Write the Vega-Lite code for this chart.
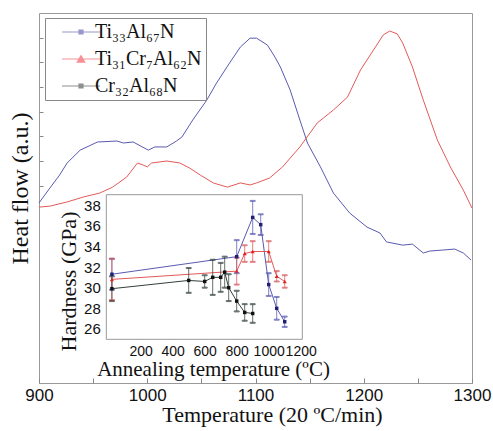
{
  "$schema": "https://vega.github.io/schema/vega-lite/v6.json",
  "width": 433,
  "height": 370,
  "autosize": "none",
  "padding": {"left": 39, "top": 13, "right": 21, "bottom": 48},
  "background": "white",
  "datasets": {
    "dsc": [
      {"T": 900, "hf": 7.30, "s": "Ti₃₃Al₆₇N"},
      {"T": 910, "hf": 7.90, "s": "Ti₃₃Al₆₇N"},
      {"T": 919, "hf": 8.43, "s": "Ti₃₃Al₆₇N"},
      {"T": 926, "hf": 8.92, "s": "Ti₃₃Al₆₇N"},
      {"T": 938, "hf": 9.44, "s": "Ti₃₃Al₆₇N"},
      {"T": 954, "hf": 9.77, "s": "Ti₃₃Al₆₇N"},
      {"T": 972, "hf": 9.81, "s": "Ti₃₃Al₆₇N"},
      {"T": 978, "hf": 9.73, "s": "Ti₃₃Al₆₇N"},
      {"T": 987, "hf": 9.77, "s": "Ti₃₃Al₆₇N"},
      {"T": 1001, "hf": 9.44, "s": "Ti₃₃Al₆₇N"},
      {"T": 1007, "hf": 9.57, "s": "Ti₃₃Al₆₇N"},
      {"T": 1018, "hf": 9.57, "s": "Ti₃₃Al₆₇N"},
      {"T": 1027, "hf": 9.81, "s": "Ti₃₃Al₆₇N"},
      {"T": 1032, "hf": 9.97, "s": "Ti₃₃Al₆₇N"},
      {"T": 1042, "hf": 10.66, "s": "Ti₃₃Al₆₇N"},
      {"T": 1055, "hf": 11.47, "s": "Ti₃₃Al₆₇N"},
      {"T": 1064, "hf": 12.16, "s": "Ti₃₃Al₆₇N"},
      {"T": 1076, "hf": 12.97, "s": "Ti₃₃Al₆₇N"},
      {"T": 1086, "hf": 13.62, "s": "Ti₃₃Al₆₇N"},
      {"T": 1095, "hf": 13.98, "s": "Ti₃₃Al₆₇N"},
      {"T": 1101, "hf": 13.98, "s": "Ti₃₃Al₆₇N"},
      {"T": 1111, "hf": 13.70, "s": "Ti₃₃Al₆₇N"},
      {"T": 1118, "hf": 13.21, "s": "Ti₃₃Al₆₇N"},
      {"T": 1123, "hf": 12.81, "s": "Ti₃₃Al₆₇N"},
      {"T": 1132, "hf": 11.88, "s": "Ti₃₃Al₆₇N"},
      {"T": 1141, "hf": 10.66, "s": "Ti₃₃Al₆₇N"},
      {"T": 1148, "hf": 9.73, "s": "Ti₃₃Al₆₇N"},
      {"T": 1160, "hf": 8.76, "s": "Ti₃₃Al₆₇N"},
      {"T": 1172, "hf": 7.70, "s": "Ti₃₃Al₆₇N"},
      {"T": 1187, "hf": 6.89, "s": "Ti₃₃Al₆₇N"},
      {"T": 1203, "hf": 6.32, "s": "Ti₃₃Al₆₇N"},
      {"T": 1215, "hf": 6.08, "s": "Ti₃₃Al₆₇N"},
      {"T": 1221, "hf": 5.72, "s": "Ti₃₃Al₆₇N"},
      {"T": 1236, "hf": 5.59, "s": "Ti₃₃Al₆₇N"},
      {"T": 1245, "hf": 5.63, "s": "Ti₃₃Al₆₇N"},
      {"T": 1255, "hf": 5.27, "s": "Ti₃₃Al₆₇N"},
      {"T": 1261, "hf": 5.35, "s": "Ti₃₃Al₆₇N"},
      {"T": 1273, "hf": 5.39, "s": "Ti₃₃Al₆₇N"},
      {"T": 1284, "hf": 5.43, "s": "Ti₃₃Al₆₇N"},
      {"T": 1292, "hf": 5.27, "s": "Ti₃₃Al₆₇N"},
      {"T": 1299, "hf": 4.99, "s": "Ti₃₃Al₆₇N"},
      {"T": 900, "hf": 7.13, "s": "Ti₃₁Cr₇Al₆₂N"},
      {"T": 910, "hf": 7.17, "s": "Ti₃₁Cr₇Al₆₂N"},
      {"T": 926, "hf": 7.34, "s": "Ti₃₁Cr₇Al₆₂N"},
      {"T": 941, "hf": 7.54, "s": "Ti₃₁Cr₇Al₆₂N"},
      {"T": 956, "hf": 7.70, "s": "Ti₃₁Cr₇Al₆₂N"},
      {"T": 968, "hf": 7.94, "s": "Ti₃₁Cr₇Al₆₂N"},
      {"T": 981, "hf": 8.35, "s": "Ti₃₁Cr₇Al₆₂N"},
      {"T": 991, "hf": 8.92, "s": "Ti₃₁Cr₇Al₆₂N"},
      {"T": 996, "hf": 8.84, "s": "Ti₃₁Cr₇Al₆₂N"},
      {"T": 1000, "hf": 8.76, "s": "Ti₃₁Cr₇Al₆₂N"},
      {"T": 1004, "hf": 8.92, "s": "Ti₃₁Cr₇Al₆₂N"},
      {"T": 1018, "hf": 9.00, "s": "Ti₃₁Cr₇Al₆₂N"},
      {"T": 1030, "hf": 8.92, "s": "Ti₃₁Cr₇Al₆₂N"},
      {"T": 1039, "hf": 8.72, "s": "Ti₃₁Cr₇Al₆₂N"},
      {"T": 1049, "hf": 8.43, "s": "Ti₃₁Cr₇Al₆₂N"},
      {"T": 1061, "hf": 8.11, "s": "Ti₃₁Cr₇Al₆₂N"},
      {"T": 1074, "hf": 7.94, "s": "Ti₃₁Cr₇Al₆₂N"},
      {"T": 1086, "hf": 8.11, "s": "Ti₃₁Cr₇Al₆₂N"},
      {"T": 1095, "hf": 8.03, "s": "Ti₃₁Cr₇Al₆₂N"},
      {"T": 1101, "hf": 8.11, "s": "Ti₃₁Cr₇Al₆₂N"},
      {"T": 1113, "hf": 8.31, "s": "Ti₃₁Cr₇Al₆₂N"},
      {"T": 1125, "hf": 8.76, "s": "Ti₃₁Cr₇Al₆₂N"},
      {"T": 1141, "hf": 9.57, "s": "Ti₃₁Cr₇Al₆₂N"},
      {"T": 1157, "hf": 10.54, "s": "Ti₃₁Cr₇Al₆₂N"},
      {"T": 1172, "hf": 11.07, "s": "Ti₃₁Cr₇Al₆₂N"},
      {"T": 1185, "hf": 11.59, "s": "Ti₃₁Cr₇Al₆₂N"},
      {"T": 1197, "hf": 12.69, "s": "Ti₃₁Cr₇Al₆₂N"},
      {"T": 1209, "hf": 13.50, "s": "Ti₃₁Cr₇Al₆₂N"},
      {"T": 1218, "hf": 14.11, "s": "Ti₃₁Cr₇Al₆₂N"},
      {"T": 1224, "hf": 14.27, "s": "Ti₃₁Cr₇Al₆₂N"},
      {"T": 1231, "hf": 14.15, "s": "Ti₃₁Cr₇Al₆₂N"},
      {"T": 1236, "hf": 13.78, "s": "Ti₃₁Cr₇Al₆₂N"},
      {"T": 1245, "hf": 12.81, "s": "Ti₃₁Cr₇Al₆₂N"},
      {"T": 1255, "hf": 11.47, "s": "Ti₃₁Cr₇Al₆₂N"},
      {"T": 1268, "hf": 9.85, "s": "Ti₃₁Cr₇Al₆₂N"},
      {"T": 1280, "hf": 8.76, "s": "Ti₃₁Cr₇Al₆₂N"},
      {"T": 1292, "hf": 7.82, "s": "Ti₃₁Cr₇Al₆₂N"},
      {"T": 1300, "hf": 7.09, "s": "Ti₃₁Cr₇Al₆₂N"}
    ],
    "hard": [
      {"A": 20, "H": 31.3, "lo": 29.8, "hi": 32.8, "s": "Ti₃₃Al₆₇N"},
      {"A": 800, "H": 33.0, "lo": 31.4, "hi": 34.6, "s": "Ti₃₃Al₆₇N"},
      {"A": 900, "H": 36.8, "lo": 35.2, "hi": 38.4, "s": "Ti₃₃Al₆₇N"},
      {"A": 950, "H": 36.1, "lo": 35.1, "hi": 37.1, "s": "Ti₃₃Al₆₇N"},
      {"A": 1000, "H": 30.3, "lo": 29.2, "hi": 31.4, "s": "Ti₃₃Al₆₇N"},
      {"A": 1050, "H": 28.0, "lo": 26.9, "hi": 29.1, "s": "Ti₃₃Al₆₇N"},
      {"A": 1100, "H": 26.7, "lo": 26.2, "hi": 27.2, "s": "Ti₃₃Al₆₇N"},
      {"A": 20, "H": 30.8, "lo": 28.8, "hi": 32.8, "s": "Ti₃₁Cr₇Al₆₂N"},
      {"A": 800, "H": 31.6, "lo": 30.3, "hi": 32.9, "s": "Ti₃₁Cr₇Al₆₂N"},
      {"A": 850, "H": 33.3, "lo": 32.5, "hi": 34.1, "s": "Ti₃₁Cr₇Al₆₂N"},
      {"A": 900, "H": 33.5, "lo": 32.5, "hi": 34.5, "s": "Ti₃₁Cr₇Al₆₂N"},
      {"A": 1000, "H": 33.5, "lo": 32.5, "hi": 34.5, "s": "Ti₃₁Cr₇Al₆₂N"},
      {"A": 1050, "H": 31.1, "lo": 30.6, "hi": 31.6, "s": "Ti₃₁Cr₇Al₆₂N"},
      {"A": 1100, "H": 30.6, "lo": 30.0, "hi": 31.2, "s": "Ti₃₁Cr₇Al₆₂N"},
      {"A": 20, "H": 29.9, "lo": 28.7, "hi": 31.1, "s": "Cr₃₂Al₆₈N"},
      {"A": 500, "H": 30.7, "lo": 29.5, "hi": 31.9, "s": "Cr₃₂Al₆₈N"},
      {"A": 600, "H": 30.6, "lo": 30.0, "hi": 31.2, "s": "Cr₃₂Al₆₈N"},
      {"A": 650, "H": 31.0, "lo": 29.3, "hi": 32.7, "s": "Cr₃₂Al₆₈N"},
      {"A": 700, "H": 31.0, "lo": 29.6, "hi": 32.4, "s": "Cr₃₂Al₆₈N"},
      {"A": 725, "H": 31.5, "lo": 30.0, "hi": 33.0, "s": "Cr₃₂Al₆₈N"},
      {"A": 750, "H": 30.0, "lo": 28.7, "hi": 31.3, "s": "Cr₃₂Al₆₈N"},
      {"A": 800, "H": 28.7, "lo": 27.7, "hi": 29.7, "s": "Cr₃₂Al₆₈N"},
      {"A": 850, "H": 27.6, "lo": 26.8, "hi": 28.4, "s": "Cr₃₂Al₆₈N"},
      {"A": 900, "H": 27.5, "lo": 26.6, "hi": 28.4, "s": "Cr₃₂Al₆₈N"}
    ],
    "series": [
      {"s": "Ti₃₃Al₆₇N"},
      {"s": "Ti₃₁Cr₇Al₆₂N"},
      {"s": "Cr₃₂Al₆₈N"}
    ]
  },
  "layer": [
    {
      "layer": [
        {
          "data": {"name": "dsc"},
          "mark": {"type": "line", "strokeWidth": 1},
          "encoding": {
            "x": {"field": "T", "type": "quantitative",
              "scale": {"domain": [900, 1300], "nice": false, "zero": false},
              "axis": {"orient": "bottom", "values": [900, 950, 1000, 1050, 1100, 1150, 1200, 1250, 1300],
                "format": "d", "labelOverlap": false,
                "labelExpr": "datum.value % 100 == 0 ? datum.label : ''",
                "tickSize": -5, "labelPadding": 9, "labelFontSize": 17, "labelFlush": false,
                "title": "Temperature (20 ºC/min)", "titleFontSize": 22,
                "titleX": 233, "titleY": 38, "titleBaseline": "alphabetic", "titleAlign": "center"}},
            "y": {"field": "hf", "type": "quantitative",
              "scale": {"domain": [0, 15], "nice": false, "zero": false},
              "axis": {"orient": "left", "values": [8, 9, 10, 11, 12, 13, 14], "labels": false,
                "tickSize": -4, "title": "Heat flow (a.u.)", "titleFontSize": 24,
                "titleX": -12, "titleY": 175, "titleAngle": 270, "titleBaseline": "alphabetic", "titleAlign": "center"}},
            "stroke": {"field": "s", "type": "nominal",
              "scale": {"domain": ["Ti₃₁Cr₇Al₆₂N", "Ti₃₃Al₆₇N", "Cr₃₂Al₆₈N"], "range": ["#e35a5a", "#5a5ab0", "#34403a"]},
              "legend": null}
          }
        },
        {
          "data": {"name": "series"},
          "mark": {"type": "point", "filled": true, "size": 0},
          "encoding": {
            "color": {"field": "s", "type": "nominal",
              "scale": {"domain": ["Ti₃₃Al₆₇N", "Ti₃₁Cr₇Al₆₂N", "Cr₃₂Al₆₈N"], "range": ["#2b2b99", "#ee1c25", "#1a1a1a"]},
              "legend": {"orient": "none", "legendX": 6, "legendY": 5, "title": null,
                "labelFont": "Liberation Serif", "labelFontSize": 20, "labelColor": "#111",
                "symbolSize": 400, "symbolOffset": 16, "labelOffset": 10, "padding": 4, "rowPadding": 7,
                "strokeColor": "#888", "symbolStrokeWidth": 0, "symbolOpacity": 1}},
            "shape": {"field": "s", "type": "nominal",
              "scale": {"domain": ["Ti₃₃Al₆₇N", "Ti₃₁Cr₇Al₆₂N", "Cr₃₂Al₆₈N"],
                "range": [
                  "M-1.3,-0.05H2.5V0.05H-1.3ZM0.34,-0.26H0.86V0.26H0.34Z",
                  "M-1.3,-0.05H2.5V0.05H-1.3ZM0.6,-0.45L1.08,0.38H0.12Z",
                  "M-1.3,-0.05H2.5V0.05H-1.3ZM0.34,-0.26H0.86V0.26H0.34Z"
                ]}}
          }
        }
      ]
    },
    {
      "layer": [
        {
          "data": {"values": [{}]},
          "mark": {"type": "rect", "fill": "white", "stroke": "#999", "strokeWidth": 1},
          "encoding": {
            "x": {"datum": -15, "type": "quantitative"},
            "x2": {"datum": 1210},
            "y": {"datum": 25, "type": "quantitative"},
            "y2": {"datum": 39}
          }
        },
        {
          "data": {"name": "hard"},
          "mark": {"type": "line", "strokeWidth": 1},
          "encoding": {
            "x": {"field": "A", "type": "quantitative",
              "scale": {"domain": [-435.6, 2270.6], "nice": false, "zero": false},
              "axis": {"orient": "bottom", "offset": -43.7, "domain": false,
                "values": [200, 400, 600, 800, 1000, 1200], "format": "d",
                "labelOverlap": false,
                "tickSize": -4, "labelPadding": 9, "labelFontSize": 14, "labelFlush": false,
                "title": "Annealing temperature (ºC)", "titleFontSize": 21,
                "titleX": 174, "titleY": 36.5, "titleBaseline": "alphabetic", "titleAlign": "center"}},
            "y": {"field": "H", "type": "quantitative",
              "scale": {"domain": [20.77, 56.59], "nice": false, "zero": false},
              "axis": {"orient": "left", "offset": -67.3, "domain": false,
                "values": [26, 28, 30, 32, 34, 36, 38], "labelOverlap": false,
                "tickSize": -4, "labelPadding": 10, "labelFontSize": 15,
                "title": "Hardness (GPa)", "titleFontSize": 22,
                "titleX": -31, "titleY": 268, "titleAngle": 270, "titleBaseline": "alphabetic", "titleAlign": "center"}},
            "stroke": {"field": "s", "type": "nominal", "legend": null}
          }
        },
        {
          "data": {"name": "hard"},
          "mark": {"type": "rule", "strokeWidth": 1, "opacity": 0.75},
          "encoding": {
            "x": {"field": "A", "type": "quantitative"},
            "y": {"field": "lo", "type": "quantitative"},
            "y2": {"field": "hi"},
            "stroke": {"field": "s", "type": "nominal", "legend": null}
          }
        },
        {
          "data": {"name": "hard"},
          "mark": {"type": "tick", "orient": "horizontal", "size": 5, "thickness": 1, "opacity": 0.75},
          "encoding": {
            "x": {"field": "A", "type": "quantitative"},
            "y": {"field": "lo", "type": "quantitative"},
            "stroke": {"field": "s", "type": "nominal", "legend": null}
          }
        },
        {
          "data": {"name": "hard"},
          "mark": {"type": "tick", "orient": "horizontal", "size": 5, "thickness": 1, "opacity": 0.75},
          "encoding": {
            "x": {"field": "A", "type": "quantitative"},
            "y": {"field": "hi", "type": "quantitative"},
            "stroke": {"field": "s", "type": "nominal", "legend": null}
          }
        },
        {
          "data": {"name": "hard"},
          "transform": [{"filter": "datum.s != 'Ti₃₁Cr₇Al₆₂N'"}],
          "mark": {"type": "point", "shape": "square", "filled": true, "size": 12, "opacity": 1},
          "encoding": {
            "x": {"field": "A", "type": "quantitative"},
            "y": {"field": "H", "type": "quantitative"},
            "fill": {"field": "s", "type": "nominal",
              "scale": {"domain": ["Cr₃₂Al₆₈N", "Ti₃₁Cr₇Al₆₂N", "Ti₃₃Al₆₇N"], "range": ["#111111", "#e01f1f", "#1f1f7a"]},
              "legend": null}
          }
        },
        {
          "data": {"name": "hard"},
          "transform": [{"filter": "datum.s == 'Ti₃₁Cr₇Al₆₂N'"}],
          "mark": {"type": "point", "shape": "triangle-up", "filled": true, "size": 16, "opacity": 1},
          "encoding": {
            "x": {"field": "A", "type": "quantitative"},
            "y": {"field": "H", "type": "quantitative"},
            "fill": {"field": "s", "type": "nominal",
              "scale": {"domain": ["Cr₃₂Al₆₈N", "Ti₃₁Cr₇Al₆₂N", "Ti₃₃Al₆₇N"], "range": ["#111111", "#e01f1f", "#1f1f7a"]},
              "legend": null}
          }
        }
      ]
    }
  ],
  "resolve": {
    "scale": {"x": "independent", "y": "independent"},
    "axis": {"x": "independent", "y": "independent"}
  },
  "config": {
    "view": {"stroke": "#999", "strokeWidth": 1},
    "axis": {"grid": false, "domain": false, "labelFont": "Liberation Sans", "titleFont": "Liberation Serif",
      "titleFontWeight": "normal", "labelColor": "#111", "titleColor": "#111", "tickColor": "#888"}
  }
}
